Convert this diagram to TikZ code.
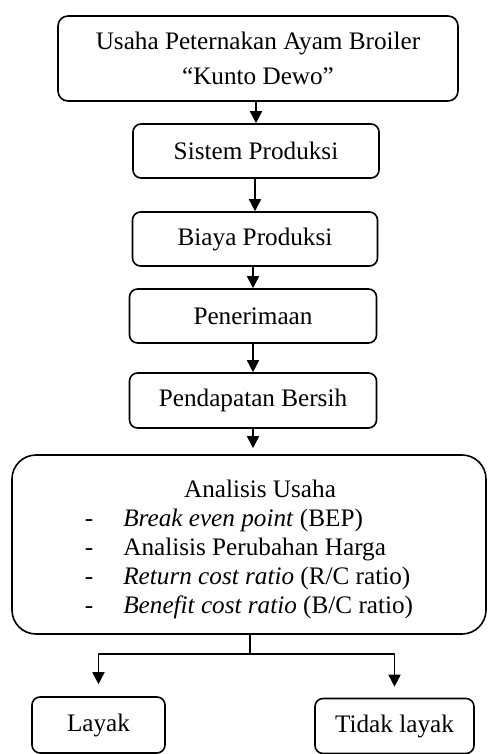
\documentclass[tikz,border=0pt]{standalone}
\usepackage{fontspec}
\setmainfont{Liberation Serif}
\usetikzlibrary{arrows.meta}

\begin{document}
\begin{tikzpicture}[x=0.5pt, y=-0.5pt, line width=0.8pt, line join=round,
  font=\fontsize{12.6}{14.5}\selectfont,
  box/.style={draw, rounded corners=4pt, align=center, inner sep=0pt},
  arr/.style={-{Triangle[length=6pt, width=6pt]}}]
  % frame of the reference image
  \useasboundingbox (0,0) rectangle (487,754);

  % main chain
  \node[box, rounded corners=5pt, minimum width=200pt, minimum height=42.5pt] (usaha) at (258,58.5)
    {Usaha Peternakan Ayam Broiler\\[3pt]“Kunto Dewo”};
  \node[box, minimum width=123pt, minimum height=27pt] (sistem) at (256,151) {Sistem Produksi};
  \node[box, minimum width=122.5pt, minimum height=27pt] (biaya) at (255,239) {Biaya Produksi};
  \node[box, minimum width=123.5pt, minimum height=27pt] (terima) at (253,316) {Penerimaan};
  \node[box, minimum width=123.5pt, minimum height=27.5pt] (bersih) at (253,400.5) {Pendapatan Bersih};

  % analysis box
  \node[box, rounded corners=12pt, minimum width=237pt, minimum height=89.5pt] (analisis) at (249,544.5)
    {\begin{tabular}{@{}l@{\hspace{15pt}}l@{}}
       \multicolumn{2}{c}{\rule{0pt}{15.6pt}\hspace{11pt}Analisis Usaha}\\
       - & \textit{Break even point} (BEP)\\
       - & Analisis Perubahan Harga\\
       - & \textit{Return cost ratio} (R/C ratio)\\
       - & \textit{Benefit cost ratio} (B/C ratio)
     \end{tabular}};

  % outcomes
  \node[box, minimum width=66.5pt, minimum height=28pt] (layak) at (98.5,725) {Layak};
  \node[box, minimum width=79.5pt, minimum height=27.5pt] (tidak) at (394.5,726) {Tidak layak};

  % arrows
  \draw[arr] (usaha.south -| sistem.north) -- (sistem.north);
  \draw[arr] (sistem.south -| biaya.north) -- (biaya.north);
  \draw[arr] (biaya.south -| terima.north) -- (terima.north);
  \draw[arr] (terima) -- (bersih);
  \draw[arr, shorten >=3pt] (bersih.south) -- (bersih.south |- analisis.north);

  % split to the outcomes
  \coordinate (split) at (250,654);
  \draw (analisis.south -| split) -- (split);
  \draw[arr, shorten >=6pt] (split) -| (layak.north);
  \draw[arr, shorten >=5.5pt] (split) -| (tidak.north);
\end{tikzpicture}
\end{document}
